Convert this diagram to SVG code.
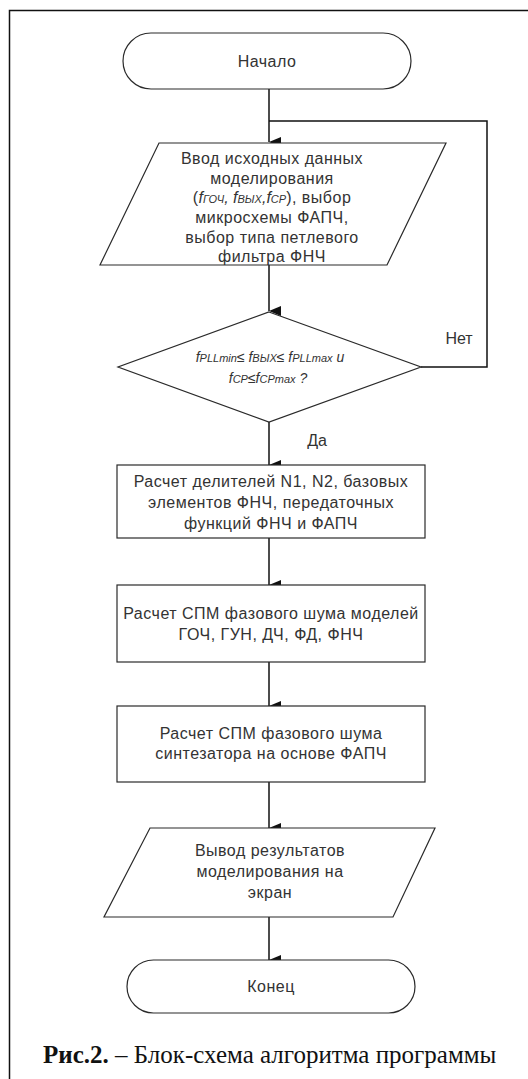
<svg xmlns="http://www.w3.org/2000/svg" width="528" height="1079" viewBox="0 0 528 1079">
<style>
.shape{fill:#fff;stroke:#2a2a2a;stroke-width:1.2}
.t{font-family:"Liberation Sans",Arial,sans-serif;font-size:16px;fill:#333;text-anchor:middle;letter-spacing:0.5px}
.it{font-family:"Liberation Sans",Arial,sans-serif;font-size:14px;font-style:italic;fill:#333;text-anchor:middle}
.sub{font-size:11px}
.con{fill:none;stroke:#111;stroke-width:1.5}
.cap{font-family:"Liberation Serif","Times New Roman",serif;font-size:25px;fill:#111}
</style>
<defs>
<marker id="ah" markerWidth="10" markerHeight="12" refX="5" refY="12" orient="auto-start-reverse" markerUnits="userSpaceOnUse" viewBox="0 0 10 12">
<path d="M0,0 L10,0 L5,12 Z" fill="#111"/>
</marker>
</defs>
<rect width="528" height="1079" fill="#fff"/>
<g id="frame">
<path d="M9.5,1079 V10.5 H528" fill="none" stroke="#111" stroke-width="1.5"/>
</g>
<g id="connectors">
<line class="con" x1="269" y1="89" x2="269" y2="142" marker-end="url(#ah)"/>
<path class="con" d="M421,367 H487 V121 H269"/>
<line class="con" x1="269" y1="265" x2="269" y2="311" marker-end="url(#ah)"/>
<line class="con" x1="269" y1="422" x2="269" y2="465" marker-end="url(#ah)"/>
<line class="con" x1="269" y1="538" x2="269" y2="585" marker-end="url(#ah)"/>
<line class="con" x1="269" y1="662" x2="269" y2="706" marker-end="url(#ah)"/>
<line class="con" x1="269" y1="782" x2="269" y2="828" marker-end="url(#ah)"/>
<line class="con" x1="269" y1="917" x2="269" y2="960" marker-end="url(#ah)"/>
<text class="t" x="459" y="344" style="letter-spacing:0">Нет</text>
<text class="t" x="317" y="446" style="letter-spacing:0">Да</text>
</g>
<g id="start">
<rect class="shape" x="123" y="33" width="288" height="56" rx="28" ry="28"/>
<text class="t" x="267" y="67">Начало</text>
</g>
<g id="input">
<polygon class="shape" points="159,143 446,143 387,265 100,265"/>
<text class="t" x="272" y="164">Ввод исходных данных</text>
<text class="t" x="272" y="184">моделирования</text>
<text class="t" x="272" y="203">(<tspan font-style="italic" letter-spacing="0">f<tspan class="sub">ГОЧ</tspan>, f<tspan class="sub">ВЫХ</tspan>,f<tspan class="sub">СР</tspan></tspan>), выбор</text>
<text class="t" x="272" y="223">микросхемы ФАПЧ,</text>
<text class="t" x="272" y="243">выбор типа петлевого</text>
<text class="t" x="272" y="262">фильтра ФНЧ</text>
</g>
<g id="check">
<polygon class="shape" points="269,312 421,367 269,422 118,367"/>
<text class="it" x="270" y="362">f<tspan class="sub">PLLmin</tspan>≤ f<tspan class="sub">ВЫХ</tspan>≤ f<tspan class="sub">PLLmax</tspan> и</text>
<text class="it" x="268" y="383">f<tspan class="sub">CP</tspan>≤f<tspan class="sub">CPmax</tspan> ?</text>
</g>
<g id="calc1">
<rect class="shape" x="117" y="465" width="308" height="73"/>
<text class="t" x="271" y="487">Расчет делителей N1, N2, базовых</text>
<text class="t" x="271" y="508">элементов ФНЧ, передаточных</text>
<text class="t" x="271" y="529">функций ФНЧ и ФАПЧ</text>
</g>
<g id="calc2">
<rect class="shape" x="117" y="585" width="308" height="77"/>
<text class="t" x="271" y="619">Расчет СПМ фазового шума моделей</text>
<text class="t" x="271" y="640">ГОЧ, ГУН, ДЧ, ФД, ФНЧ</text>
</g>
<g id="calc3">
<rect class="shape" x="117" y="706" width="308" height="76"/>
<text class="t" x="271" y="739">Расчет СПМ фазового шума</text>
<text class="t" x="271" y="759">синтезатора на основе ФАПЧ</text>
</g>
<g id="output">
<polygon class="shape" points="150,828 435,828 393,917 104,917"/>
<text class="t" x="270" y="856">Вывод результатов</text>
<text class="t" x="270" y="877">моделирования на</text>
<text class="t" x="270" y="898">экран</text>
</g>
<g id="end">
<rect class="shape" x="127" y="960" width="288" height="53" rx="26.5" ry="26.5"/>
<text class="t" x="271" y="992">Конец</text>
</g>
<g id="caption">
<text class="cap" x="43" y="1063"><tspan font-weight="bold">Рис.2.</tspan> – Блок-схема алгоритма программы</text>
</g>
</svg>
